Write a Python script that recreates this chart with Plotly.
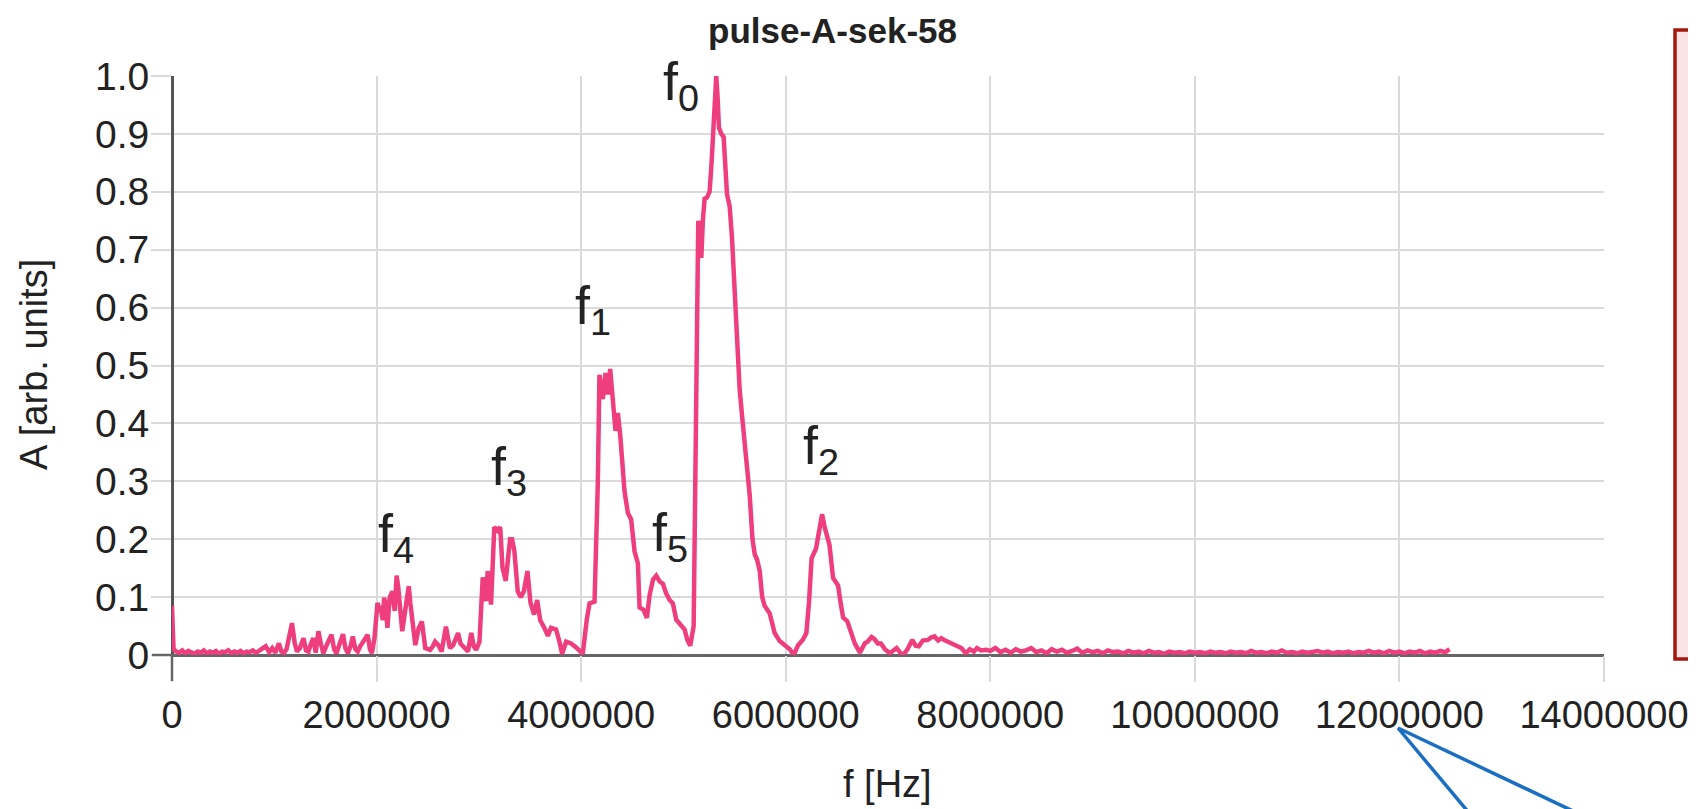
import plotly.graph_objects as go

# ---- data (frequency in kHz, amplitude in arb. units) ----
freq_khz = [
    0, 15, 40, 70, 100, 130, 160, 190, 220, 250, 280, 310, 340, 370, 400, 430, 460, 490, 520, 550,
    580, 610, 640, 670, 700, 730, 760, 790, 820, 850, 880, 916, 950, 980, 1010, 1045, 1070, 1093, 1120, 1173,
    1200, 1222, 1250, 1286, 1310, 1334, 1360, 1382, 1405, 1431, 1455, 1479, 1520, 1559, 1585, 1608, 1640, 1672, 1695, 1720,
    1745, 1768, 1792, 1816, 1840, 1865, 1890, 1913, 1935, 1955, 1980, 2009, 2025, 2041, 2060, 2074, 2090, 2106, 2128, 2154,
    2177, 2196, 2210, 2225, 2251, 2283, 2315, 2330, 2347, 2379, 2411, 2443, 2476, 2500, 2524, 2550, 2572, 2604, 2636, 2678,
    2700, 2717, 2749, 2797, 2820, 2845, 2870, 2894, 2926, 2950, 2974, 3006, 3038, 3055, 3070, 3086, 3100, 3119, 3151, 3183,
    3209, 3231, 3263, 3290, 3305, 3325, 3347, 3380, 3410, 3440, 3475, 3505, 3540, 3570, 3600, 3640, 3675, 3705, 3755, 3788,
    3814, 3853, 3902, 3951, 4016, 4055, 4082, 4131, 4163, 4179, 4195, 4212, 4238, 4261, 4284, 4310, 4336, 4359, 4382, 4424,
    4457, 4489, 4522, 4555, 4571, 4610, 4643, 4669, 4702, 4734, 4767, 4799, 4832, 4865, 4897, 4930, 4963, 5012, 5038, 5067,
    5100, 5125, 5145, 5160, 5175, 5190, 5207, 5230, 5256, 5275, 5289, 5310, 5321, 5335, 5347, 5370, 5393, 5426, 5452, 5475,
    5501, 5525, 5550, 5575, 5599, 5625, 5648, 5675, 5697, 5720, 5746, 5770, 5794, 5843, 5892, 5941, 6007, 6040, 6079, 6121,
    6166, 6202, 6228, 6253, 6297, 6330, 6355, 6382, 6428, 6463, 6490, 6512, 6537, 6561, 6603, 6647, 6675, 6725, 6773, 6800,
    6839, 6865, 6900, 6931, 6970, 7018, 7050, 7084, 7120, 7149, 7190, 7237, 7270, 7302, 7340, 7390, 7420, 7455, 7490, 7521,
    7550, 7586, 7620, 7652, 7690, 7717, 7761, 7800, 7840, 7870, 7910, 7958, 8000, 8050, 8100, 8150, 8200, 8250, 8300, 8350,
    8400, 8450, 8500, 8550, 8600, 8650, 8700, 8750, 8800, 8850, 8900, 8950, 9000, 9050, 9100, 9150, 9200, 9250, 9300, 9350,
    9400, 9450, 9500, 9550, 9600, 9650, 9700, 9750, 9800, 9850, 9900, 9950, 10000, 10050, 10100, 10150, 10200, 10250, 10300, 10350,
    10400, 10450, 10500, 10550, 10600, 10650, 10700, 10750, 10800, 10850, 10900, 10950, 11000, 11050, 11100, 11150, 11200, 11250, 11300, 11350,
    11400, 11450, 11500, 11550, 11600, 11650, 11700, 11750, 11800, 11850, 11900, 11950, 12000, 12050, 12100, 12150, 12200, 12250, 12300, 12350,
    12400, 12450, 12490,
]
amplitude = [
    0.085, 0.010, 0.006, 0.004, 0.008, 0.003, 0.007, 0.005, 0.002, 0.006, 0.004, 0.008, 0.003, 0.006, 0.004, 0.007, 0.002, 0.006, 0.005, 0.008,
    0.003, 0.006, 0.004, 0.007, 0.003, 0.006, 0.005, 0.008, 0.004, 0.007, 0.010, 0.015, 0.005, 0.012, 0.004, 0.020, 0.006, 0.003, 0.010, 0.055,
    0.020, 0.006, 0.012, 0.029, 0.008, 0.006, 0.020, 0.029, 0.004, 0.041, 0.020, 0.003, 0.020, 0.035, 0.010, 0.003, 0.020, 0.036, 0.012, 0.003,
    0.015, 0.032, 0.010, 0.006, 0.015, 0.023, 0.030, 0.035, 0.010, 0.003, 0.030, 0.090, 0.080, 0.081, 0.060, 0.099, 0.085, 0.047, 0.099, 0.110,
    0.076, 0.137, 0.120, 0.093, 0.041, 0.081, 0.119, 0.090, 0.058, 0.017, 0.046, 0.058, 0.012, 0.010, 0.009, 0.015, 0.023, 0.017, 0.006, 0.049,
    0.020, 0.012, 0.017, 0.038, 0.020, 0.015, 0.010, 0.006, 0.038, 0.015, 0.009, 0.023, 0.134, 0.110, 0.093, 0.145, 0.120, 0.087, 0.221, 0.215,
    0.221, 0.151, 0.128, 0.180, 0.200, 0.200, 0.180, 0.110, 0.100, 0.110, 0.145, 0.090, 0.070, 0.095, 0.060, 0.047, 0.033, 0.047, 0.044, 0.023,
    0.002, 0.023, 0.020, 0.013, 0.002, 0.061, 0.089, 0.092, 0.297, 0.484, 0.460, 0.442, 0.487, 0.450, 0.494, 0.442, 0.387, 0.418, 0.380, 0.283,
    0.245, 0.234, 0.179, 0.158, 0.082, 0.078, 0.064, 0.103, 0.130, 0.137, 0.127, 0.123, 0.106, 0.095, 0.089, 0.061, 0.054, 0.044, 0.026, 0.016,
    0.050, 0.400, 0.750, 0.720, 0.686, 0.750, 0.788, 0.790, 0.800, 0.850, 0.904, 0.980, 1.000, 0.960, 0.911, 0.900, 0.895, 0.796, 0.775, 0.720,
    0.620, 0.530, 0.458, 0.410, 0.370, 0.310, 0.276, 0.200, 0.174, 0.165, 0.145, 0.100, 0.085, 0.072, 0.038, 0.024, 0.015, 0.010, 0.000, 0.017,
    0.026, 0.038, 0.092, 0.167, 0.184, 0.222, 0.243, 0.220, 0.190, 0.133, 0.125, 0.120, 0.090, 0.065, 0.058, 0.035, 0.020, 0.004, 0.020, 0.023,
    0.031, 0.028, 0.020, 0.020, 0.010, 0.003, 0.008, 0.012, 0.004, 0.000, 0.010, 0.026, 0.016, 0.015, 0.025, 0.026, 0.030, 0.032, 0.025, 0.029,
    0.026, 0.023, 0.020, 0.017, 0.015, 0.012, 0.003, 0.010, 0.006, 0.012, 0.008, 0.009, 0.007, 0.012, 0.005, 0.009, 0.004, 0.010, 0.006, 0.008,
    0.012, 0.005, 0.008, 0.003, 0.010, 0.006, 0.009, 0.004, 0.007, 0.011, 0.004, 0.008, 0.005, 0.007, 0.003, 0.008, 0.005, 0.006, 0.003, 0.007,
    0.004, 0.006, 0.003, 0.007, 0.004, 0.005, 0.002, 0.006, 0.004, 0.005, 0.003, 0.006, 0.004, 0.005, 0.003, 0.006, 0.004, 0.005, 0.003, 0.006,
    0.004, 0.005, 0.003, 0.007, 0.004, 0.005, 0.003, 0.006, 0.004, 0.008, 0.004, 0.005, 0.003, 0.006, 0.004, 0.005, 0.007, 0.004, 0.006, 0.003,
    0.005, 0.004, 0.006, 0.003, 0.005, 0.004, 0.007, 0.004, 0.006, 0.003, 0.007, 0.004, 0.006, 0.003, 0.006, 0.004, 0.007, 0.003, 0.006, 0.004,
    0.007, 0.005, 0.010,
]
freq_hz = [k * 1000 for k in freq_khz]

x_ticks = [0, 2000000, 4000000, 6000000, 8000000, 10000000, 12000000, 14000000]
x_tick_labels = ["0", "2000000", "4000000", "6000000", "8000000", "10000000", "12000000", "14000000"]
y_ticks = [0, 0.1, 0.2, 0.3, 0.4, 0.5, 0.6, 0.7, 0.8, 0.9, 1.0]
y_tick_labels = ["0", "0.1", "0.2", "0.3", "0.4", "0.5", "0.6", "0.7", "0.8", "0.9", "1.0"]

peak_labels = ["f<sub>0</sub>", "f<sub>1</sub>", "f<sub>2</sub>", "f<sub>3</sub>", "f<sub>4</sub>", "f<sub>5</sub>"]
peak_label_f = [4976000, 4116000, 6345000, 3295000, 2190000, 4869000]
peak_label_a = [0.985, 0.597, 0.355, 0.32, 0.203, 0.205]

title_text = "pulse-A-sek-58"
x_title = "f [Hz]"
y_title = "A [arb. units]"

FONT = "Liberation Sans, Arial, sans-serif"
W, H = 1696, 809
L, R, T, B = 164, 100, 68, 162
PW, PH = W - L - R, H - T - B


def px_to_paper(px, py):
    return (px - L) / PW, (H - B - py) / PH


fig = go.Figure()
fig.add_trace(go.Scatter(
    x=freq_hz, y=amplitude, mode="lines",
    line=dict(color="#EF3E7E", width=4.5),
    showlegend=False, hoverinfo="skip",
))

# peak labels
for txt, fx, ay in zip(peak_labels, peak_label_f, peak_label_a):
    fig.add_annotation(x=fx, y=ay, xref="x", yref="y", text=txt, showarrow=False,
                       font=dict(family=FONT, size=54, color="#222222"),
                       xanchor="center", yanchor="middle")

# axis titles and chart title
ax_, ay_ = px_to_paper(26, 357)
fig.add_annotation(x=ax_, y=ay_, xref="paper", yref="paper", text=y_title, textangle=-90,
                   showarrow=False, font=dict(family=FONT, size=38, color="#222222"),
                   xanchor="center", yanchor="middle")
bx_, by_ = px_to_paper(879, 776)
fig.add_annotation(x=bx_, y=by_, xref="paper", yref="paper", text=x_title,
                   showarrow=False, font=dict(family=FONT, size=38, color="#222222"),
                   xanchor="center", yanchor="middle")
tx_, ty_ = px_to_paper(824, 23)
fig.add_annotation(x=tx_, y=ty_, xref="paper", yref="paper", text="<b>" + title_text + "</b>",
                   showarrow=False, font=dict(family=FONT, size=35, color="#222222"),
                   xanchor="center", yanchor="middle")

# red box at right edge
r0x, r0y = px_to_paper(1667, 651)
r1x, r1y = px_to_paper(1712, 22)
fig.add_shape(type="rect", xref="paper", yref="paper", x0=r0x, y0=r0y, x1=r1x, y1=r1y,
              fillcolor="#FCE3E3", line=dict(color="#A3170F", width=3.5), layer="above")

# blue callout lines
apx, apy = px_to_paper(1390, 720)
e1x, e1y = px_to_paper(1467, 812)
e2x, e2y = px_to_paper(1584, 812)
fig.add_shape(type="line", xref="paper", yref="paper", x0=apx, y0=apy, x1=e1x, y1=e1y,
              line=dict(color="#1A6FC2", width=3.5))
fig.add_shape(type="line", xref="paper", yref="paper", x0=apx, y0=apy, x1=e2x, y1=e2y,
              line=dict(color="#1A6FC2", width=3.5))

# dark stubs of the axes beyond the origin
z0x, z0y = px_to_paper(L - 20, H - B)
fig.add_shape(type="line", xref="paper", yref="paper", x0=z0x, y0=0, x1=0, y1=0,
              line=dict(color="#666666", width=2.5))
s0x, s0y = px_to_paper(L, H - B + 26)
fig.add_shape(type="line", xref="paper", yref="paper", x0=0, y0=s0y, x1=0, y1=0,
              line=dict(color="#666666", width=2.5))

fig.update_layout(
    width=W, height=H, autosize=False,
    margin=dict(l=L, r=R, t=T, b=B, pad=0),
    paper_bgcolor="white", plot_bgcolor="white",
    font=dict(family=FONT, size=38, color="#222222"),
    showlegend=False,
)
fig.update_xaxes(
    range=[0, 14000000], tickmode="array", tickvals=x_ticks, ticktext=x_tick_labels,
    showgrid=True, gridcolor="#DADADA", gridwidth=2,
    ticks="outside", ticklen=26, tickwidth=2, tickcolor="#DADADA",
    showline=False, zeroline=True, zerolinecolor="#555555", zerolinewidth=2.5,
    automargin=False,
    tickfont=dict(family=FONT, size=38, color="#222222"),
)
fig.update_yaxes(
    range=[0, 1.0], tickmode="array", tickvals=y_ticks, ticktext=y_tick_labels,
    showgrid=True, gridcolor="#DADADA", gridwidth=2,
    ticks="outside", ticklen=20, tickwidth=2, tickcolor="#DADADA",
    ticklabelstandoff=-6,
    zeroline=True, zerolinecolor="#666666", zerolinewidth=2.5,
    showline=False, automargin=False,
    tickfont=dict(family=FONT, size=39, color="#222222"),
)

fig.write_html("out.html")
